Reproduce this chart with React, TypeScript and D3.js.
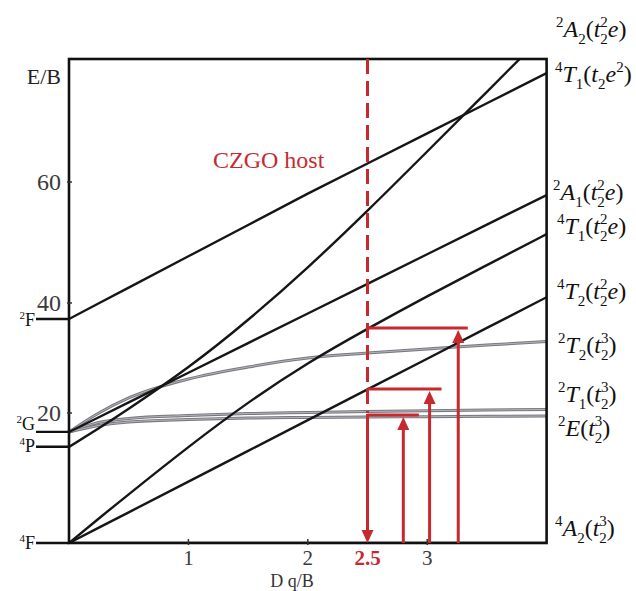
import React from "react";
import * as d3 from "d3";

// ---------- data ----------
const dq = [0, 0.25, 0.5, 1, 1.5, 2, 2.5, 3, 3.5, 4];
const e4A2 = [0, 0, 0, 0, 0, 0, 0, 0, 0, 0];
const e4T2 = [0, 2.37, 4.72, 9.45, 14.18, 18.9, 24.29, 29.87, 35.47, 40.96];
const e4T1F = [0, 3.77, 7.49, 14.75, 21.84, 29.0, 35.29, 41.09, 46.26, 51.39];
const e2A1 = [17.08, 19.35, 21.93, 27.31, 32.71, 38.09, 43.16, 48.05, 52.96, 57.85];
const e4T1P = [14.77, 17.66, 20.76, 28.36, 36.95, 45.9, 55.27, 64.96, 74.67, 84.38];
const e2F = [37.09, 39.95, 42.55, 47.72, 52.89, 58.07, 63.01, 67.9, 72.81, 77.72];
const e2T2 = [17.08, 20.0, 22.73, 26.18, 28.36, 30.0, 30.91, 31.64, 32.36, 33.0];
const e2T1 = [17.08, 18.54, 19.15, 19.62, 19.92, 20.09, 20.27, 20.42, 20.55, 20.64];
const e2E = [17.08, 18.08, 18.62, 19.0, 19.23, 19.31, 19.38, 19.43, 19.49, 19.54];

const blackCurves = [e4T2, e4T1F, e2A1, e4T1P, e2F];
const blackCurved = [false, true, false, true, false];
const grayCurves = [e2T2, e2T1, e2E];

const xTicks = [1, 2, 3];
const yTicks = [20, 40, 60];
const freeIonNames = ["4F", "4P", "2G", "2F"];
const freeIonE = [0, 14.8, 17.1, 37.1];

const hostDq = 2.5;
const hostLabel = "CZGO host";
const transitionDq = [2.8, 3.02, 3.26];
const transitionE = [19.69, 24.36, 35.45];
const transitionEndDq = [2.93, 3.12, 3.34];

type Seg = { t: string; k: "sup" | "sub" | "stack" | "it" | "n" };
const rightLabels: Seg[][] = [
  [{ t: "2", k: "sup" }, { t: "A", k: "it" }, { t: "2", k: "sub" }, { t: "(", k: "n" }, { t: "t", k: "it" }, { t: "2", k: "sub" }, { t: "2", k: "stack" }, { t: "e", k: "it" }, { t: ")", k: "n" }],
  [{ t: "4", k: "sup" }, { t: "T", k: "it" }, { t: "1", k: "sub" }, { t: "(", k: "n" }, { t: "t", k: "it" }, { t: "2", k: "sub" }, { t: "e", k: "it" }, { t: "2", k: "sup" }, { t: ")", k: "n" }],
  [{ t: "2", k: "sup" }, { t: "A", k: "it" }, { t: "1", k: "sub" }, { t: "(", k: "n" }, { t: "t", k: "it" }, { t: "2", k: "sub" }, { t: "2", k: "stack" }, { t: "e", k: "it" }, { t: ")", k: "n" }],
  [{ t: "4", k: "sup" }, { t: "T", k: "it" }, { t: "1", k: "sub" }, { t: "(", k: "n" }, { t: "t", k: "it" }, { t: "2", k: "sub" }, { t: "2", k: "stack" }, { t: "e", k: "it" }, { t: ")", k: "n" }],
  [{ t: "4", k: "sup" }, { t: "T", k: "it" }, { t: "2", k: "sub" }, { t: "(", k: "n" }, { t: "t", k: "it" }, { t: "2", k: "sub" }, { t: "2", k: "stack" }, { t: "e", k: "it" }, { t: ")", k: "n" }],
  [{ t: "2", k: "sup" }, { t: "T", k: "it" }, { t: "2", k: "sub" }, { t: "(", k: "n" }, { t: "t", k: "it" }, { t: "2", k: "sub" }, { t: "3", k: "stack" }, { t: ")", k: "n" }],
  [{ t: "2", k: "sup" }, { t: "T", k: "it" }, { t: "1", k: "sub" }, { t: "(", k: "n" }, { t: "t", k: "it" }, { t: "2", k: "sub" }, { t: "3", k: "stack" }, { t: ")", k: "n" }],
  [{ t: "2", k: "sup" }, { t: "E", k: "it" }, { t: "(", k: "n" }, { t: "t", k: "it" }, { t: "2", k: "sub" }, { t: "3", k: "stack" }, { t: ")", k: "n" }],
  [{ t: "4", k: "sup" }, { t: "A", k: "it" }, { t: "2", k: "sub" }, { t: "(", k: "n" }, { t: "t", k: "it" }, { t: "2", k: "sub" }, { t: "3", k: "stack" }, { t: ")", k: "n" }],
];

// ---------- layout ----------
const W = 636;
const H = 591;
const left = 69;
const right = 546.6;
const top = 59;
const bottom = 543;
const RED = "#c62a2f";
const serif = "'Liberation Serif', 'Times New Roman', serif";
const rightLabelX = [556, 555, 553, 557, 557, 558, 558, 558, 555];
const rightLabelY = [37, 82, 200, 234, 299, 353, 402, 436, 536];
const freeIonDy = [6, 5, -2, 7];

const x = d3.scaleLinear().domain([0, 4]).range([left, right]);
const y = d3.scaleLinear().domain([0, 20, 40, 60, 80]).range([bottom, 413, 303, 182, top]);

function Label({ segs, lx, ly }: { segs: Seg[]; lx: number; ly: number }) {
  let cur = 0;
  return (
    <text x={lx} y={ly} fontFamily={serif} fill="#111">
      {segs.map((s, i) => {
        const target = s.k === "sup" || s.k === "stack" ? -10 : s.k === "sub" ? 7 : 0;
        const dy = target - cur;
        cur = target;
        const small = s.k === "sup" || s.k === "sub" || s.k === "stack";
        return (
          <tspan
            key={i}
            dy={dy}
            dx={s.k === "stack" ? -7.5 : 0}
            fontSize={small ? 15 : 24}
            fontStyle={s.k === "it" ? "italic" : "normal"}
          >
            {s.t}
          </tspan>
        );
      })}
    </text>
  );
}

export default function App() {
  const lineStraight = d3
    .line<number>()
    .x((_, i) => x(dq[i]))
    .y((v) => y(v));
  const lineCurved = d3
    .line<number>()
    .x((_, i) => x(dq[i]))
    .y((v) => y(v))
    .curve(d3.curveNatural);
  const lineGray = d3
    .line<number>()
    .x((_, i) => x(dq[i]))
    .y((v) => y(v))
    .curve(d3.curveMonotoneX);

  const hx = x(hostDq);
  const lowE = d3.min(transitionE) as number;

  return (
    <div style={{ position: "absolute", left: 0, top: 0 }}>
      <svg width={W} height={H} style={{ display: "block", background: "#fff" }}>
        <defs>
          <clipPath id="plot">
            <rect x={left} y={top} width={right - left} height={bottom - top} />
          </clipPath>
        </defs>

        <g clipPath="url(#plot)" fill="none">
          {grayCurves.map((c, i) => (
            <g key={"g" + i}>
              <path d={lineGray(c) || ""} stroke="#77777f" strokeWidth={3} />
              <path d={lineGray(c) || ""} stroke="#b4b4ba" strokeWidth={1} />
            </g>
          ))}
          {blackCurves.map((c, i) => (
            <path
              key={"b" + i}
              d={(blackCurved[i] ? lineCurved(c) : lineStraight(c)) || ""}
              stroke="#161616"
              strokeWidth={2.4}
            />
          ))}
          <path d={lineStraight(e4A2) || ""} stroke="#161616" strokeWidth={2.4} />
        </g>

        <rect x={left} y={top} width={right - left} height={bottom - top} fill="none" stroke="#111" strokeWidth={2.6} />

        {yTicks.map((t) => (
          <g key={"yt" + t}>
            <line x1={left - 2} x2={left + 3} y1={y(t)} y2={y(t)} stroke="#333" strokeWidth={1.5} />
            <text x={61} y={y(t) + 8} textAnchor="end" fontFamily={serif} fontSize={24} fill="#3a3a3a">
              {t}
            </text>
          </g>
        ))}
        <text x={61} y={84} textAnchor="end" fontFamily={serif} fontSize={22} fill="#222">
          E/B
        </text>

        {freeIonNames.map((n, i) => (
          <g key={n}>
            <line x1={36} x2={left} y1={y(freeIonE[i])} y2={y(freeIonE[i])} stroke="#111" strokeWidth={2.4} />
            <text x={35} y={y(freeIonE[i]) + freeIonDy[i]} textAnchor="end" fontFamily={serif} fill="#111">
              <tspan fontSize={11} dy={-7}>
                {n[0]}
              </tspan>
              <tspan fontSize={18} dy={7}>
                {n[1]}
              </tspan>
            </text>
          </g>
        ))}

        {xTicks.map((t) => (
          <g key={"xt" + t}>
            <line x1={x(t)} x2={x(t)} y1={bottom + 2} y2={bottom - 4} stroke="#333" strokeWidth={1.5} />
            <text x={x(t)} y={565} textAnchor="middle" fontFamily={serif} fontSize={21} fill="#3a3a3a">
              {t}
            </text>
          </g>
        ))}
        <text x={hx} y={565} textAnchor="middle" fontFamily={serif} fontSize={21} fontWeight="bold" fill={RED}>
          {hostDq}
        </text>
        <text x={292} y={586.5} textAnchor="middle" fontFamily={serif} fontSize={18} fill="#333">
          D q/B
        </text>

        <line x1={hx} x2={hx} y1={y(80)} y2={y(lowE) - 2} stroke={RED} strokeWidth={3} strokeDasharray="15,7" />
        <line x1={hx} x2={hx} y1={y(lowE) - 1} y2={y(0) - 10} stroke={RED} strokeWidth={3} />
        <polygon points={`${hx},${y(0)} ${hx - 6},${y(0) - 13} ${hx + 6},${y(0) - 13}`} fill={RED} />
        <text x={213} y={168} fontFamily={serif} fontSize={24} fill={RED}>
          {hostLabel}
        </text>

        {transitionDq.map((t, i) => {
          const tx = x(t);
          const ty = y(transitionE[i]);
          return (
            <g key={"tr" + i}>
              <line x1={hx} x2={x(transitionEndDq[i])} y1={ty} y2={ty} stroke={RED} strokeWidth={3} />
              <line x1={tx} x2={tx} y1={y(0)} y2={ty + 12} stroke={RED} strokeWidth={3} />
              <polygon points={`${tx},${ty + 2} ${tx - 6},${ty + 15} ${tx + 6},${ty + 15}`} fill={RED} />
            </g>
          );
        })}

        {rightLabels.map((segs, i) => (
          <Label key={"rl" + i} segs={segs} lx={rightLabelX[i]} ly={rightLabelY[i]} />
        ))}
      </svg>
    </div>
  );
}
